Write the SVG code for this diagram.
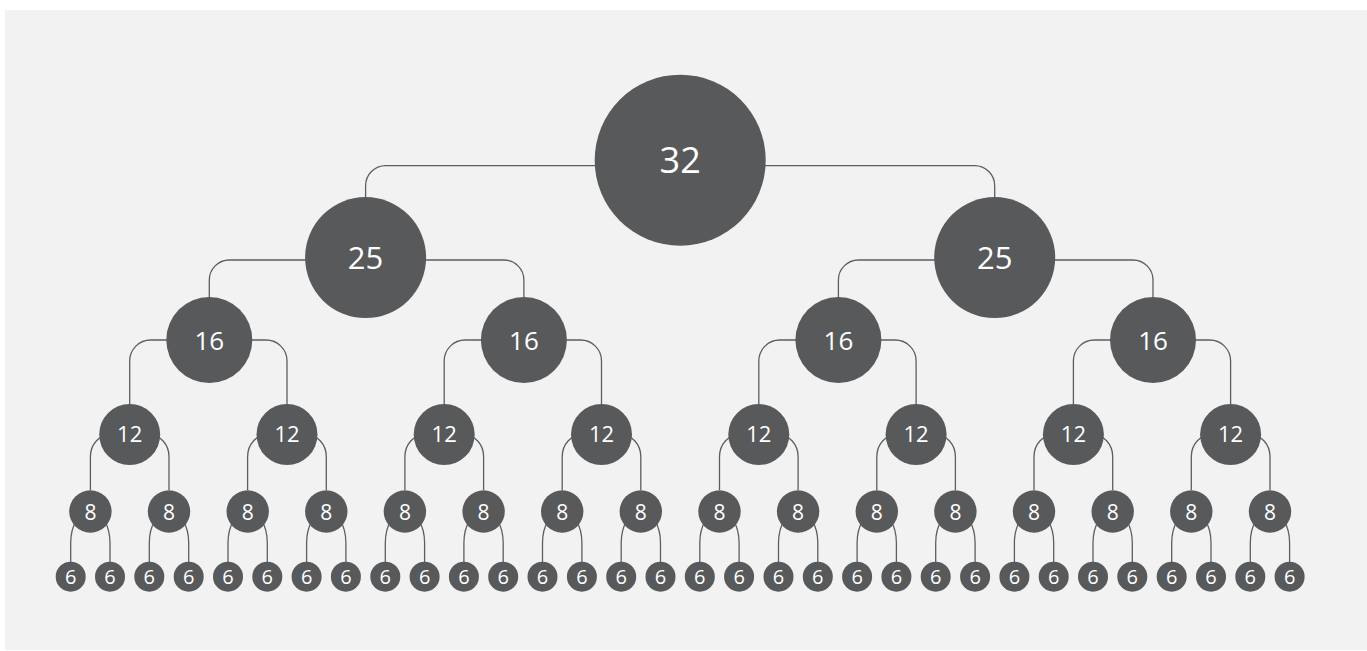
<svg xmlns="http://www.w3.org/2000/svg" width="1367" height="651" viewBox="0 0 1367 651">
<style>
.c{fill:#58595b}
.l{fill:none;stroke:#5d5e60;stroke-width:1.3}
text{fill:#ffffff;font-family:"Open Sans","DejaVu Sans",sans-serif;text-anchor:middle}
.t32{font-size:36px}.t25{font-size:31px}.t16{font-size:26px}.t12{font-size:22px}.t8{font-size:21px}.t6{font-size:20px}
</style>
<rect x="5" y="10" width="1362" height="640" fill="#f2f2f2"/>
<g id="connectors">
<path class="l" d="M365.6 198 V185.7 A20 20 0 0 1 385.6 165.7 H974.7 A20 20 0 0 1 994.7 185.7 V198"/>
<path class="l" d="M209.3 298 V280 A20 20 0 0 1 229.3 260 H503.9 A20 20 0 0 1 523.9 280 V298"/>
<path class="l" d="M838.4 298 V280 A20 20 0 0 1 858.4 260 H1133 A20 20 0 0 1 1153 280 V298"/>
<path class="l" d="M129.7 405 V361 A21 21 0 0 1 150.7 340 H266 A21 21 0 0 1 287 361 V405"/>
<path class="l" d="M444.2 405 V361 A21 21 0 0 1 465.2 340 H580.5 A21 21 0 0 1 601.5 361 V405"/>
<path class="l" d="M758.8 405 V361 A21 21 0 0 1 779.8 340 H895.1 A21 21 0 0 1 916.1 361 V405"/>
<path class="l" d="M1073.4 405 V361 A21 21 0 0 1 1094.4 340 H1209.6 A21 21 0 0 1 1230.6 361 V405"/>
<path class="l" d="M90.4 490 V456.5 A20 22 0 0 1 110.4 434.5 H149 A20 22 0 0 1 169 456.5 V490"/>
<path class="l" d="M247.6 490 V456.5 A20 22 0 0 1 267.6 434.5 H306.3 A20 22 0 0 1 326.3 456.5 V490"/>
<path class="l" d="M404.9 490 V456.5 A20 22 0 0 1 424.9 434.5 H463.6 A20 22 0 0 1 483.6 456.5 V490"/>
<path class="l" d="M562.2 490 V456.5 A20 22 0 0 1 582.2 434.5 H620.8 A20 22 0 0 1 640.8 456.5 V490"/>
<path class="l" d="M719.5 490 V456.5 A20 22 0 0 1 739.5 434.5 H778.1 A20 22 0 0 1 798.1 456.5 V490"/>
<path class="l" d="M876.8 490 V456.5 A20 22 0 0 1 896.8 434.5 H935.4 A20 22 0 0 1 955.4 456.5 V490"/>
<path class="l" d="M1034 490 V456.5 A20 22 0 0 1 1054 434.5 H1092.7 A20 22 0 0 1 1112.7 456.5 V490"/>
<path class="l" d="M1191.3 490 V456.5 A20 22 0 0 1 1211.3 434.5 H1250 A20 22 0 0 1 1270 456.5 V490"/>
<path class="l" d="M70.7 562 V543 A19.7 32 0 0 1 90.4 511 A19.7 32 0 0 1 110 543 V562"/>
<path class="l" d="M149.3 562 V543 A19.7 32 0 0 1 169 511 A19.7 32 0 0 1 188.7 543 V562"/>
<path class="l" d="M228 562 V543 A19.7 32 0 0 1 247.7 511 A19.7 32 0 0 1 267.3 543 V562"/>
<path class="l" d="M306.6 562 V543 A19.7 32 0 0 1 326.3 511 A19.7 32 0 0 1 345.9 543 V562"/>
<path class="l" d="M385.3 562 V543 A19.7 32 0 0 1 404.9 511 A19.7 32 0 0 1 424.6 543 V562"/>
<path class="l" d="M463.9 562 V543 A19.7 32 0 0 1 483.6 511 A19.7 32 0 0 1 503.2 543 V562"/>
<path class="l" d="M542.5 562 V543 A19.7 32 0 0 1 562.2 511 A19.7 32 0 0 1 581.9 543 V562"/>
<path class="l" d="M621.2 562 V543 A19.7 32 0 0 1 640.8 511 A19.7 32 0 0 1 660.5 543 V562"/>
<path class="l" d="M699.8 562 V543 A19.7 32 0 0 1 719.5 511 A19.7 32 0 0 1 739.1 543 V562"/>
<path class="l" d="M778.5 562 V543 A19.7 32 0 0 1 798.1 511 A19.7 32 0 0 1 817.8 543 V562"/>
<path class="l" d="M857.1 562 V543 A19.7 32 0 0 1 876.8 511 A19.7 32 0 0 1 896.4 543 V562"/>
<path class="l" d="M935.7 562 V543 A19.7 32 0 0 1 955.4 511 A19.7 32 0 0 1 975.1 543 V562"/>
<path class="l" d="M1014.4 562 V543 A19.7 32 0 0 1 1034 511 A19.7 32 0 0 1 1053.7 543 V562"/>
<path class="l" d="M1093 562 V543 A19.7 32 0 0 1 1112.7 511 A19.7 32 0 0 1 1132.3 543 V562"/>
<path class="l" d="M1171.7 562 V543 A19.7 32 0 0 1 1191.3 511 A19.7 32 0 0 1 1211 543 V562"/>
<path class="l" d="M1250.3 562 V543 A19.7 32 0 0 1 1270 511 A19.7 32 0 0 1 1289.6 543 V562"/>
</g>
<g id="n32"><circle class="c" cx="680.2" cy="160.2" r="85.5"/><text class="t32" x="680.2" y="173.2">32</text></g>
<g id="n25a"><circle class="c" cx="365.6" cy="257.6" r="60.5"/><text class="t25" x="365.6" y="268.9">25</text></g>
<g id="n25b"><circle class="c" cx="994.7" cy="257.6" r="60.5"/><text class="t25" x="994.7" y="268.9">25</text></g>
<g id="n16a"><circle class="c" cx="209.3" cy="340" r="43"/><text class="t16" x="209.3" y="350">16</text></g>
<g id="n16b"><circle class="c" cx="523.9" cy="340" r="43"/><text class="t16" x="523.9" y="350">16</text></g>
<g id="n16c"><circle class="c" cx="838.4" cy="340" r="43"/><text class="t16" x="838.4" y="350">16</text></g>
<g id="n16d"><circle class="c" cx="1153" cy="340" r="43"/><text class="t16" x="1153" y="350">16</text></g>
<g id="n12a"><circle class="c" cx="129.7" cy="434.5" r="30.5"/><text class="t12" x="129.7" y="442.4">12</text></g>
<g id="n12b"><circle class="c" cx="287" cy="434.5" r="30.5"/><text class="t12" x="287" y="442.4">12</text></g>
<g id="n12c"><circle class="c" cx="444.2" cy="434.5" r="30.5"/><text class="t12" x="444.2" y="442.4">12</text></g>
<g id="n12d"><circle class="c" cx="601.5" cy="434.5" r="30.5"/><text class="t12" x="601.5" y="442.4">12</text></g>
<g id="n12e"><circle class="c" cx="758.8" cy="434.5" r="30.5"/><text class="t12" x="758.8" y="442.4">12</text></g>
<g id="n12f"><circle class="c" cx="916.1" cy="434.5" r="30.5"/><text class="t12" x="916.1" y="442.4">12</text></g>
<g id="n12g"><circle class="c" cx="1073.4" cy="434.5" r="30.5"/><text class="t12" x="1073.4" y="442.4">12</text></g>
<g id="n12h"><circle class="c" cx="1230.6" cy="434.5" r="30.5"/><text class="t12" x="1230.6" y="442.4">12</text></g>
<g id="n8a"><circle class="c" cx="90.4" cy="511.5" r="21.2"/><text class="t8" x="90.4" y="519.5">8</text></g>
<g id="n8b"><circle class="c" cx="169" cy="511.5" r="21.2"/><text class="t8" x="169" y="519.5">8</text></g>
<g id="n8c"><circle class="c" cx="247.7" cy="511.5" r="21.2"/><text class="t8" x="247.7" y="519.5">8</text></g>
<g id="n8d"><circle class="c" cx="326.3" cy="511.5" r="21.2"/><text class="t8" x="326.3" y="519.5">8</text></g>
<g id="n8e"><circle class="c" cx="404.9" cy="511.5" r="21.2"/><text class="t8" x="404.9" y="519.5">8</text></g>
<g id="n8f"><circle class="c" cx="483.6" cy="511.5" r="21.2"/><text class="t8" x="483.6" y="519.5">8</text></g>
<g id="n8g"><circle class="c" cx="562.2" cy="511.5" r="21.2"/><text class="t8" x="562.2" y="519.5">8</text></g>
<g id="n8h"><circle class="c" cx="640.8" cy="511.5" r="21.2"/><text class="t8" x="640.8" y="519.5">8</text></g>
<g id="n8i"><circle class="c" cx="719.5" cy="511.5" r="21.2"/><text class="t8" x="719.5" y="519.5">8</text></g>
<g id="n8j"><circle class="c" cx="798.1" cy="511.5" r="21.2"/><text class="t8" x="798.1" y="519.5">8</text></g>
<g id="n8k"><circle class="c" cx="876.8" cy="511.5" r="21.2"/><text class="t8" x="876.8" y="519.5">8</text></g>
<g id="n8l"><circle class="c" cx="955.4" cy="511.5" r="21.2"/><text class="t8" x="955.4" y="519.5">8</text></g>
<g id="n8m"><circle class="c" cx="1034" cy="511.5" r="21.2"/><text class="t8" x="1034" y="519.5">8</text></g>
<g id="n8n"><circle class="c" cx="1112.7" cy="511.5" r="21.2"/><text class="t8" x="1112.7" y="519.5">8</text></g>
<g id="n8o"><circle class="c" cx="1191.3" cy="511.5" r="21.2"/><text class="t8" x="1191.3" y="519.5">8</text></g>
<g id="n8p"><circle class="c" cx="1270" cy="511.5" r="21.2"/><text class="t8" x="1270" y="519.5">8</text></g>
<g id="n6-01"><circle class="c" cx="70.7" cy="576.7" r="15"/><text class="t6" x="70.7" y="584">6</text></g>
<g id="n6-02"><circle class="c" cx="110" cy="576.7" r="15"/><text class="t6" x="110" y="584">6</text></g>
<g id="n6-03"><circle class="c" cx="149.3" cy="576.7" r="15"/><text class="t6" x="149.3" y="584">6</text></g>
<g id="n6-04"><circle class="c" cx="188.7" cy="576.7" r="15"/><text class="t6" x="188.7" y="584">6</text></g>
<g id="n6-05"><circle class="c" cx="228" cy="576.7" r="15"/><text class="t6" x="228" y="584">6</text></g>
<g id="n6-06"><circle class="c" cx="267.3" cy="576.7" r="15"/><text class="t6" x="267.3" y="584">6</text></g>
<g id="n6-07"><circle class="c" cx="306.6" cy="576.7" r="15"/><text class="t6" x="306.6" y="584">6</text></g>
<g id="n6-08"><circle class="c" cx="345.9" cy="576.7" r="15"/><text class="t6" x="345.9" y="584">6</text></g>
<g id="n6-09"><circle class="c" cx="385.3" cy="576.7" r="15"/><text class="t6" x="385.3" y="584">6</text></g>
<g id="n6-10"><circle class="c" cx="424.6" cy="576.7" r="15"/><text class="t6" x="424.6" y="584">6</text></g>
<g id="n6-11"><circle class="c" cx="463.9" cy="576.7" r="15"/><text class="t6" x="463.9" y="584">6</text></g>
<g id="n6-12"><circle class="c" cx="503.2" cy="576.7" r="15"/><text class="t6" x="503.2" y="584">6</text></g>
<g id="n6-13"><circle class="c" cx="542.5" cy="576.7" r="15"/><text class="t6" x="542.5" y="584">6</text></g>
<g id="n6-14"><circle class="c" cx="581.9" cy="576.7" r="15"/><text class="t6" x="581.9" y="584">6</text></g>
<g id="n6-15"><circle class="c" cx="621.2" cy="576.7" r="15"/><text class="t6" x="621.2" y="584">6</text></g>
<g id="n6-16"><circle class="c" cx="660.5" cy="576.7" r="15"/><text class="t6" x="660.5" y="584">6</text></g>
<g id="n6-17"><circle class="c" cx="699.8" cy="576.7" r="15"/><text class="t6" x="699.8" y="584">6</text></g>
<g id="n6-18"><circle class="c" cx="739.1" cy="576.7" r="15"/><text class="t6" x="739.1" y="584">6</text></g>
<g id="n6-19"><circle class="c" cx="778.5" cy="576.7" r="15"/><text class="t6" x="778.5" y="584">6</text></g>
<g id="n6-20"><circle class="c" cx="817.8" cy="576.7" r="15"/><text class="t6" x="817.8" y="584">6</text></g>
<g id="n6-21"><circle class="c" cx="857.1" cy="576.7" r="15"/><text class="t6" x="857.1" y="584">6</text></g>
<g id="n6-22"><circle class="c" cx="896.4" cy="576.7" r="15"/><text class="t6" x="896.4" y="584">6</text></g>
<g id="n6-23"><circle class="c" cx="935.7" cy="576.7" r="15"/><text class="t6" x="935.7" y="584">6</text></g>
<g id="n6-24"><circle class="c" cx="975.1" cy="576.7" r="15"/><text class="t6" x="975.1" y="584">6</text></g>
<g id="n6-25"><circle class="c" cx="1014.4" cy="576.7" r="15"/><text class="t6" x="1014.4" y="584">6</text></g>
<g id="n6-26"><circle class="c" cx="1053.7" cy="576.7" r="15"/><text class="t6" x="1053.7" y="584">6</text></g>
<g id="n6-27"><circle class="c" cx="1093" cy="576.7" r="15"/><text class="t6" x="1093" y="584">6</text></g>
<g id="n6-28"><circle class="c" cx="1132.3" cy="576.7" r="15"/><text class="t6" x="1132.3" y="584">6</text></g>
<g id="n6-29"><circle class="c" cx="1171.7" cy="576.7" r="15"/><text class="t6" x="1171.7" y="584">6</text></g>
<g id="n6-30"><circle class="c" cx="1211" cy="576.7" r="15"/><text class="t6" x="1211" y="584">6</text></g>
<g id="n6-31"><circle class="c" cx="1250.3" cy="576.7" r="15"/><text class="t6" x="1250.3" y="584">6</text></g>
<g id="n6-32"><circle class="c" cx="1289.6" cy="576.7" r="15"/><text class="t6" x="1289.6" y="584">6</text></g>
</svg>
